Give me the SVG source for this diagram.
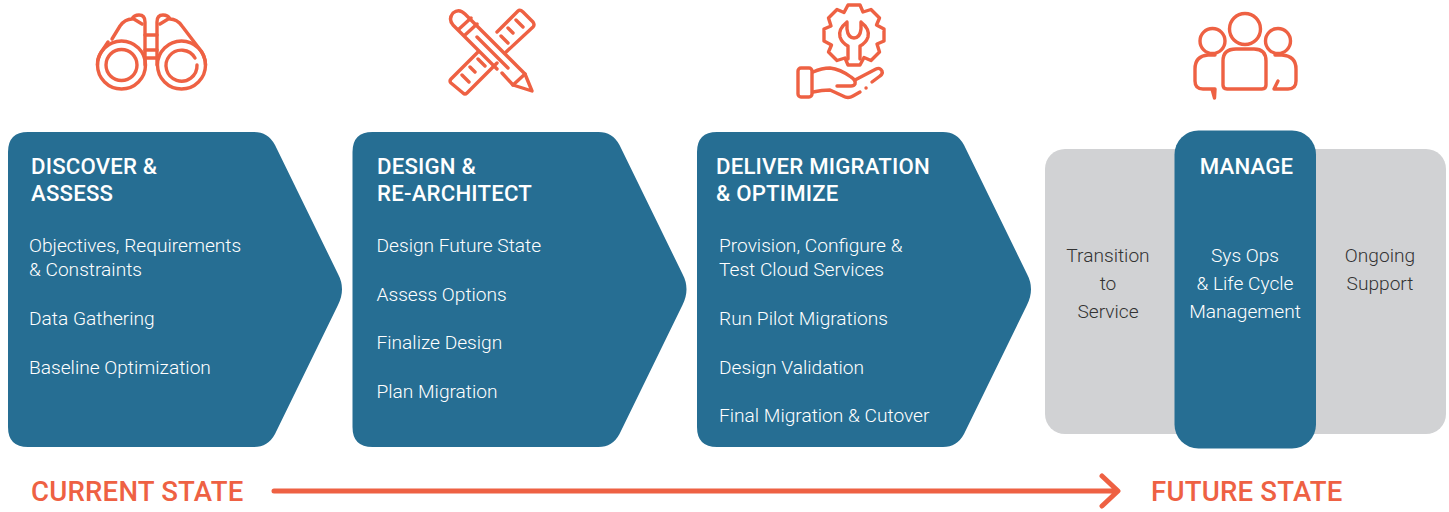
<svg xmlns="http://www.w3.org/2000/svg" width="1449" height="512" viewBox="0 0 1449 512">
<style>
text{font-family:"Roboto","Liberation Sans",sans-serif}
.t{font-size:22.2px;font-weight:500;fill:#fff;letter-spacing:.2px}
.b{font-size:19.15px;font-weight:300;fill:#fff}
.g{font-size:19.15px;font-weight:300;fill:#333}
.m{text-anchor:middle}
.s{font-size:27.6px;font-weight:500;fill:#ee6143;letter-spacing:.2px}
.box{fill:#266e93}
.i{fill:none;stroke:#ee6143;stroke-width:3.4;stroke-linecap:round;stroke-linejoin:round}
</style>
<defs>
<path id="chev" d="M28,132H254Q268,132 275,145L338,274Q346,289 338,305L275,434Q268,447 254,447H28Q8,447 8,427V152Q8,132 28,132Z"/>
</defs>
<g id="icon-binoculars" class="i">
<circle cx="121.500" cy="65" r="24"/><circle cx="121.500" cy="65" r="15.500"/>
<circle cx="181.500" cy="65" r="24"/>
<path d="M195,58A15.500,15.500 0 1 0 197,65"/>
<path d="M145,65V22Q145,15 139,15Q134,15 132,19Q125,19 120,26L112,39M108,42L102,51Q97,58 97.500,65"/>
<path d="M157,65V22Q157,15 163,15Q168,15 170,19Q177,19 182,26L201,51Q205.500,58 205.500,65"/>
<path d="M145,35H157M145,50H157M145,58H157M133,18.500L142,24M169,18.500L160,24"/>
</g>
<g id="icon-tools" class="i">
<path d="M502,73L513,85L532,91L525,74L465,14Q459,8 453,13Q448,19 453,25L497,69"/>
<path d="M459,29L471,18M465,35L477,24M513,85L525,74M477,37L508,68"/>
<path d="M497,32L518,11Q520,9 523,12L533,22Q535,25 533,27L505,53M478,52L451,79Q449,81 451,83L463,93Q465,95 467,93L497,63"/>
<path d="M516,20L523,27M508,28L513,33M501,36L508,43M478,59L485,66M470,67L475,72M462,75L469,82"/>
</g>
<g id="icon-gear-hand" class="i">
<path d="M848,5H860L863,12L871,9.500L879.500,18L876.500,25L884,29V41L877,44L879.500,52L871,60.500L864,57.500L860,65H848L845,58L837,60.500L828.500,52L831.500,45L824,41V29L831,26L828.500,18L837,9.500L844,12.500Z"/>
<path d="M847,22Q838,29 840,37Q842,43 848,46V59M861,22Q870,29 868,37Q866,43 860,46V59M847,22V29Q848,38 854,38Q860,38 861,29V22"/>
<rect x="798" y="68" width="14" height="29" rx="3"/>
<path d="M813,72Q822,68 830,68Q840,69 851,77Q856,80 855,84Q854,86 851,86H837"/>
<path d="M855,80L876,69Q880,67 882,71Q883,74 880,76L872,82"/>
<path d="M813,92Q822,90 830,90L843,96Q848,99 853,96L860,92"/>
<path d="M866,88h0.100"/>
</g>
<g id="icon-people" class="i">
<circle cx="1245" cy="29" r="15.500"/><circle cx="1212.500" cy="41" r="12.500"/><circle cx="1278" cy="41" r="12.500"/>
<path d="M1236,49H1254Q1266,49 1266,61V85Q1266,89 1262,89H1227Q1223,89 1223,85V61Q1223,49 1236,49Z"/>
<path d="M1215,55H1208Q1195,56 1195,69V81Q1195,89 1203,89H1215L1214.500,98L1212,89"/>
<path d="M1275,55H1282Q1296,56 1296,69V81Q1296,89 1288,89H1274L1278,81"/>
</g>
<g id="node-discover">
<use href="#chev" class="box"/>
<text class="t" x="31" y="174">DISCOVER &amp;</text><text class="t" x="31" y="201">ASSESS</text>
<text class="b" x="29" y="251.700">Objectives, Requirements</text><text class="b" x="29" y="275.700">&amp; Constraints</text>
<text class="b" x="29" y="324.700">Data Gathering</text><text class="b" x="29" y="373.700">Baseline Optimization</text>
</g>
<g id="node-design">
<use href="#chev" class="box" x="344.500"/>
<text class="t" x="377" y="174">DESIGN &amp;</text><text class="t" x="377" y="201">RE-ARCHITECT</text>
<text class="b" x="376.500" y="251.700">Design Future State</text><text class="b" x="376.500" y="300.700">Assess Options</text>
<text class="b" x="376.500" y="348.700">Finalize Design</text><text class="b" x="376.500" y="397.700">Plan Migration</text>
</g>
<g id="node-deliver">
<use href="#chev" class="box" x="689"/>
<text class="t" x="716" y="174">DELIVER MIGRATION</text><text class="t" x="716" y="201">&amp; OPTIMIZE</text>
<text class="b" x="719" y="251.700">Provision, Configure &amp;</text><text class="b" x="719" y="275.700">Test Cloud Services</text>
<text class="b" x="719" y="324.700">Run Pilot Migrations</text><text class="b" x="719" y="373.700">Design Validation</text><text class="b" x="719" y="421.700">Final Migration &amp; Cutover</text>
</g>
<g id="node-manage">
<rect x="1045" y="149" width="401" height="285" rx="20" fill="#d1d2d4"/>
<rect class="box" x="1174.500" y="130.500" width="141.500" height="318" rx="24"/>
<text class="g m" x="1108" y="261.700">Transition</text><text class="g m" x="1108" y="289.700">to</text><text class="g m" x="1108" y="317.700">Service</text>
<text class="t m" x="1246.500" y="174">MANAGE</text>
<text class="b m" x="1245" y="261.700">Sys Ops</text><text class="b m" x="1245" y="289.700">&amp; Life Cycle</text><text class="b m" x="1245" y="317.700">Management</text>
<text class="g m" x="1380" y="261.700">Ongoing</text><text class="g m" x="1380" y="289.700">Support</text>
</g>
<g id="connectors">
<path d="M274,491H1116M1102,476L1118,491L1102,506" fill="none" stroke="#ee6143" stroke-width="5" stroke-linecap="round" stroke-linejoin="round"/>
</g>
<text class="s" x="31" y="501">CURRENT STATE</text>
<text class="s" x="1151" y="501">FUTURE STATE</text>
</svg>
